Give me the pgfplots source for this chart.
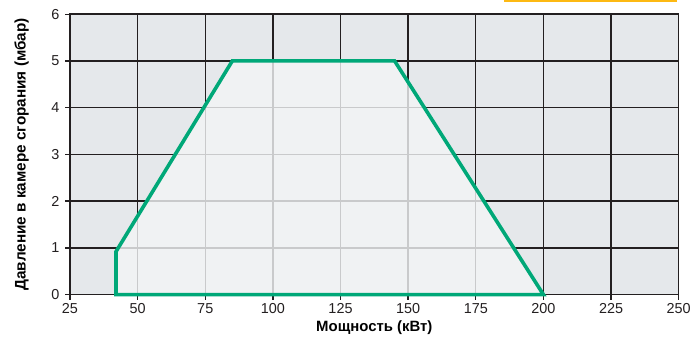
\documentclass[border={11bp 0bp 0bp 0bp}]{standalone}
\usepackage{pgfplots}
\pgfplotsset{compat=1.18}
\usepackage{fontspec}
\setmainfont{Liberation Sans}

\definecolor{bgfill}{HTML}{E5E8EB}
\definecolor{polyfill}{HTML}{F3F5F6}
\definecolor{linegreen}{HTML}{00A878}
\definecolor{axisblack}{HTML}{231F20}
\definecolor{barorange}{HTML}{FDB913}

\begin{document}
\begin{tikzpicture}
\begin{axis}[
  scale only axis,
  width=610bp, height=281bp,
  xmin=25, xmax=250, ymin=0, ymax=6,
  xtick={25,50,...,250}, ytick={0,1,...,6},
  grid=major,
  major grid style={axisblack, line width=1.3bp},
  axis background/.style={fill=bgfill},
  axis line style={axisblack, line width=1.6bp},
  tick style={axisblack, line width=1.3bp},
  tick align=outside, major tick length=5bp,
  xtick pos=bottom, ytick pos=left,
  ticklabel style={font=\fontsize{14.5}{15}\selectfont, text=axisblack},
  yticklabel style={xshift=-2bp},
  /pgf/number format/assume math mode=true,
  xlabel={\bfseries Мощность (кВт)},
  ylabel={\bfseries Давление в камере сгорания (мбар)},
  xlabel style={font=\fontsize{15}{16}\selectfont, yshift=-1bp},
  ylabel style={font=\fontsize{15.4}{16}\selectfont, yshift=16bp},
  clip=false,
]
% рабочее поле горелки
\addplot[fill=polyfill, fill opacity=0.8, draw=linegreen, line width=3.6bp,
  line join=miter] coordinates {
  (42,0) (42,0.92) (85,5) (145,5) (200,0)
} -- cycle;

\draw[barorange, line width=2.5bp]
  ([yshift=13bp]rel axis cs:0.713,1) -- ([yshift=13bp]rel axis cs:0.998,1);
\end{axis}
\end{tikzpicture}
\end{document}
